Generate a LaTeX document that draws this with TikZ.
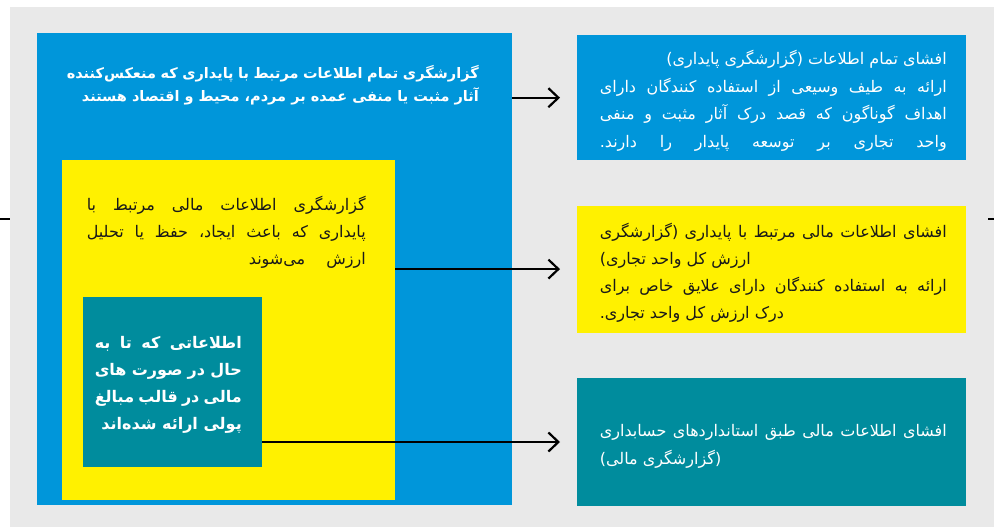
\documentclass[tikz,border=0pt]{standalone}
\usepackage{fontspec}
\newfontfamily\arabicfont[Script=Arabic]{DejaVu Sans}
\TeXXeTstate=1
\usetikzlibrary{arrows.meta,positioning}

\definecolor{bggray}{HTML}{E9E9E9}
\definecolor{sblue}{HTML}{0096DA}
\definecolor{syellow}{HTML}{FFF100}
\definecolor{steal}{HTML}{008C9D}

% one line of right-to-left text: justified, right or left
\newcommand{\jrow}[1]{\hbox to \hsize{\beginR #1\endR}}
\newcommand{\rrow}[1]{\hbox to \hsize{\hfill\beginR #1\endR}}
\newcommand{\lrow}[1]{\hbox to \hsize{\beginR #1\endR\hfill}}

\begin{document}
\begin{tikzpicture}[x=1pt,y=-1pt,
  box/.style={fill=#1,inner sep=0pt,anchor=north west},
  txt/.style={inner sep=0pt,anchor=north east,font=\arabicfont\fontsize{16}{27}\selectfont},
  arr/.style={-{Straight Barb[length=10pt,width=19pt]},line width=2.2pt,shorten >=17pt}]
  \useasboundingbox (0,0) rectangle (994,527);
  \fill[bggray] (10,7) rectangle (994,527);
  \draw[line width=1.5pt] (0,219) -- (10,219);
  \draw[line width=1.5pt] (988,219) -- (994,219);

  \node[box=sblue,minimum width=475,minimum height=472] (outer) at (37,33) {};
  \node[box=syellow,minimum width=333,minimum height=340] (fin) at (62,160) {};
  \node[box=steal,minimum width=179,minimum height=170] (ifrs) at (83,297) {};

  \node[box=sblue,minimum width=389,minimum height=125] (dsc1) at (577,35) {};
  \node[box=syellow,minimum width=389,minimum height=127] (dsc2)
    [below=45pt of dsc1.south west,anchor=north west] {};
  \node[box=steal,minimum width=389,minimum height=128] (dsc3)
    [below=45pt of dsc2.south west,anchor=north west] {};

  % texts
  \node[txt,text=white,font=\arabicfont\bfseries\fontsize{14.5}{23}\selectfont] (outertxt) at (479,65)
    {\vbox{\hsize=412pt
      \jrow{گزارشگری تمام اطلاعات مرتبط با پایداری که منعکس‌کننده}
      \rrow{آثار مثبت یا منفی عمده بر مردم، محیط و اقتصاد هستند}}};
  \node[txt,text=black!90] (fintxt) at (366,196)
    {\vbox{\hsize=279pt
      \jrow{گزارشگری اطلاعات مالی مرتبط با}
      \jrow{پایداری که باعث ایجاد، حفظ یا تحلیل}
      \rrow{ارزش \quad می‌شوند}}};
  \node[txt,text=white,font=\arabicfont\bfseries\fontsize{16}{27}\selectfont] (ifrstxt) at (242,336)
    {\vbox{\hsize=147pt
      \jrow{اطلاعاتی که تا به}
      \jrow{حال در صورت های}
      \jrow{مالی در قالب مبالغ}
      \rrow{پولی ارائه شده‌اند}}};
  \node[txt,text=white,font=\arabicfont\fontsize{16}{27.5}\selectfont] (dsc1txt) at (947,50)
    {\vbox{\hsize=347pt
      \rrow{افشای تمام اطلاعات (گزارشگری پایداری)}
      \jrow{ارائه به طیف وسیعی از استفاده کنندگان دارای}
      \jrow{اهداف گوناگون که قصد درک آثار مثبت و منفی}
      \jrow{واحد تجاری بر توسعه پایدار را دارند.}}};
  \node[txt,text=black!90] (dsc2txt) at (947,223)
    {\vbox{\hsize=347pt
      \jrow{افشای اطلاعات مالی مرتبط با پایداری (گزارشگری}
      \lrow{ارزش کل واحد تجاری)}
      \jrow{ارائه به استفاده کنندگان دارای علایق خاص برای}
      \lrow{درک ارزش کل واحد تجاری.}}};
  \node[txt,text=white,font=\arabicfont\fontsize{16}{28}\selectfont] (dsc3txt) at (947,424)
    {\vbox{\hsize=347pt
      \jrow{افشای اطلاعات مالی طبق استانداردهای حسابداری}
      \lrow{(گزارشگری مالی)}}};

  % connectors
  \draw[arr] (outer.east |- dsc1.west) -- (dsc1.west);
  \draw[arr] (fin.east |- dsc2.west) -- (dsc2.west);
  \draw[arr] (ifrs.east |- dsc3.west) -- (dsc3.west);
\end{tikzpicture}
\end{document}
